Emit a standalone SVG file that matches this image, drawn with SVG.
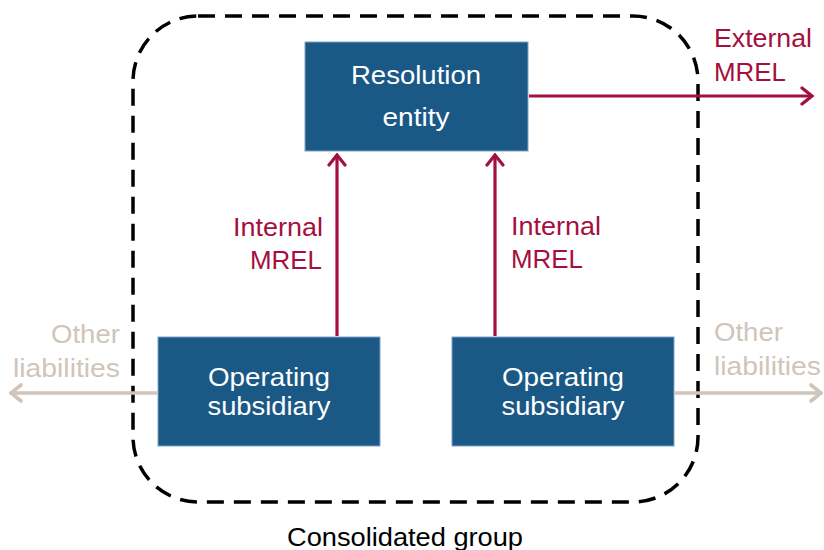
<svg xmlns="http://www.w3.org/2000/svg" width="824" height="550" viewBox="0 0 824 550">
  <defs>
    <style>
      text { font-family: "Liberation Sans", Arial, sans-serif; }
      .box { fill: #1A5886; stroke: #7FA3C2; stroke-width: 1; }
      .node-text { fill: #FFFFFF; font-size: 26px; text-anchor: middle; }
      .mrel { fill: #A50F40; font-size: 25px; }
      .other { fill: #CFC5BA; font-size: 26px; }
      .mrel-line { stroke: #A50F40; stroke-width: 3.2; fill: none; }
      .other-line { stroke: #CFC5BA; stroke-width: 3.6; fill: none; }
      .group-border { fill: none; stroke: #000000; stroke-width: 3.5; stroke-dasharray: 17 10; }
    </style>
    <marker id="head-mrel" viewBox="0 0 14 20" refX="12" refY="10" markerWidth="14" markerHeight="20" markerUnits="userSpaceOnUse" orient="auto">
      <path d="M2,2 L12,10 L2,18" fill="none" stroke="#A50F40" stroke-width="3.2" stroke-linecap="round" stroke-linejoin="miter"/>
    </marker>
    <marker id="head-other" viewBox="0 0 14 20" refX="12" refY="10" markerWidth="14" markerHeight="20" markerUnits="userSpaceOnUse" orient="auto">
      <path d="M2,2 L12,10 L2,18" fill="none" stroke="#CFC5BA" stroke-width="3.6" stroke-linecap="round" stroke-linejoin="miter"/>
    </marker>
  </defs>

  <rect width="824" height="550" fill="#FFFFFF"/>

  <!-- consolidated group boundary -->
  <g id="consolidated-group">
    <rect class="group-border" x="133" y="16" width="565" height="486" rx="65" ry="65"/>
    <text x="405" y="546" font-size="25" fill="#000000" text-anchor="middle" textLength="236" lengthAdjust="spacingAndGlyphs">Consolidated group</text>
  </g>

  <!-- connectors -->
  <g id="connectors">
    <line class="mrel-line" x1="337" y1="336" x2="337" y2="155" marker-end="url(#head-mrel)"/>
    <line class="mrel-line" x1="495" y1="336" x2="495" y2="155" marker-end="url(#head-mrel)"/>
    <line class="mrel-line" x1="529" y1="96" x2="812" y2="96" marker-end="url(#head-mrel)"/>
    <line class="other-line" x1="157" y1="393" x2="11" y2="393" marker-end="url(#head-other)"/>
    <line class="other-line" x1="675" y1="393" x2="821" y2="393" marker-end="url(#head-other)"/>
  </g>

  <!-- connector labels -->
  <g id="labels">
    <text class="mrel" x="323" y="236" text-anchor="end" textLength="90" lengthAdjust="spacingAndGlyphs">Internal</text>
    <text class="mrel" x="322" y="269" text-anchor="end" textLength="72" lengthAdjust="spacingAndGlyphs">MREL</text>
    <text class="mrel" x="511" y="235" textLength="90" lengthAdjust="spacingAndGlyphs">Internal</text>
    <text class="mrel" x="511" y="268" textLength="72" lengthAdjust="spacingAndGlyphs">MREL</text>
    <text class="mrel" x="714" y="47" textLength="98" lengthAdjust="spacingAndGlyphs">External</text>
    <text class="mrel" x="714" y="81" textLength="72" lengthAdjust="spacingAndGlyphs">MREL</text>
    <text class="other" x="120" y="343" text-anchor="end" textLength="69" lengthAdjust="spacingAndGlyphs">Other</text>
    <text class="other" x="120" y="377" text-anchor="end" textLength="107" lengthAdjust="spacingAndGlyphs">liabilities</text>
    <text class="other" x="714" y="341" textLength="69" lengthAdjust="spacingAndGlyphs">Other</text>
    <text class="other" x="714" y="375" textLength="107" lengthAdjust="spacingAndGlyphs">liabilities</text>
  </g>

  <!-- nodes -->
  <g id="resolution-entity">
    <rect class="box" x="305" y="42" width="223" height="109"/>
    <text class="node-text" x="416" y="84" textLength="130" lengthAdjust="spacingAndGlyphs">Resolution</text>
    <text class="node-text" x="416" y="126" textLength="67" lengthAdjust="spacingAndGlyphs">entity</text>
  </g>
  <g id="operating-subsidiary-left">
    <rect class="box" x="158" y="337" width="222" height="109"/>
    <text class="node-text" x="269" y="386" textLength="122" lengthAdjust="spacingAndGlyphs">Operating</text>
    <text class="node-text" x="269" y="415" textLength="123" lengthAdjust="spacingAndGlyphs">subsidiary</text>
  </g>
  <g id="operating-subsidiary-right">
    <rect class="box" x="452" y="337" width="222" height="109"/>
    <text class="node-text" x="563" y="386" textLength="122" lengthAdjust="spacingAndGlyphs">Operating</text>
    <text class="node-text" x="563" y="415" textLength="123" lengthAdjust="spacingAndGlyphs">subsidiary</text>
  </g>
</svg>
